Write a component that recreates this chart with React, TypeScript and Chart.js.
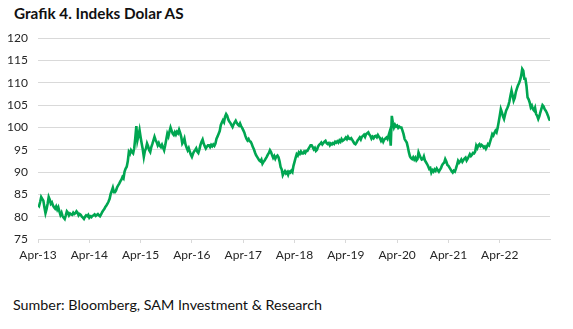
import React, { useEffect, useRef } from "react";
import { Chart, registerables } from "chart.js";

Chart.register(...registerables);

// Weekly US Dollar Index readings (4 per month), Apr-2013 .. Mar-2023
const dxyWeekly: number[] = [
  // Apr-13 .. Mar-14
  82.7, 82.4, 83.3, 84.4, 84.0, 83.6, 82.1, 80.8, 81.7, 82.9, 84.4, 83.8,
  82.9, 83.2, 82.5, 82.1, 81.8, 82.3, 81.6, 82.1, 81.2, 80.4, 80.9, 80.1,
  79.8, 79.5, 80.3, 81.2, 80.9, 80.3, 80.7, 80.5, 80.4, 80.9, 80.6, 80.8,
  81.2, 80.9, 80.3, 80.6, 80.4, 80.0, 79.8, 79.5, 80.0, 80.3, 80.1, 80.4,
  // Apr-14 .. Mar-15
  79.8, 80.1, 79.9, 80.2, 80.3, 80.5, 80.2, 80.4, 80.6, 80.3, 80.1, 80.5,
  81.0, 81.4, 81.7, 82.2, 82.5, 82.9, 83.4, 84.0, 85.1, 85.8, 86.5, 85.5,
  85.5, 85.9, 86.6, 87.0, 87.4, 87.9, 88.3, 88.9, 88.6, 90.1, 90.8, 91.2,
  92.4, 94.5, 94.1, 94.9, 94.5, 94.2, 95.3, 97.6, 100.3, 97.1, 98.2, 99.4,
  // Apr-15 .. Mar-16
  97.8, 96.4, 95.1, 93.4, 94.7, 95.3, 96.4, 95.8, 94.9, 94.5, 95.6, 96.3,
  97.1, 97.9, 97.2, 96.7, 96.0, 96.5, 95.9, 95.6, 96.1, 95.5, 94.9, 96.0,
  97.3, 98.6, 98.0, 99.1, 100.0, 99.3, 98.6, 98.3, 98.9, 98.4, 99.0, 98.7,
  99.5, 98.8, 97.9, 96.4, 96.8, 97.5, 96.2, 95.5, 94.9, 95.4, 94.6, 93.9,
  // Apr-16 .. Mar-17
  93.4, 94.1, 94.6, 94.9, 95.3, 94.6, 94.3, 95.1, 96.1, 96.8, 97.3, 96.4,
  95.8, 95.3, 95.7, 96.0, 96.0, 95.6, 96.1, 95.8, 96.2, 95.9, 96.4, 97.5,
  98.0, 98.6, 99.2, 100.5, 101.1, 101.6, 101.2, 102.4, 103.0, 102.6, 101.8, 101.3,
  101.0, 100.5, 100.1, 100.7, 101.1, 101.5, 101.0, 100.6, 100.4, 100.9, 100.3, 99.9,
  // Apr-17 .. Mar-18
  99.4, 98.9, 98.1, 97.5, 97.1, 97.4, 96.9, 96.8, 96.3, 95.6, 95.1, 94.4,
  93.8, 93.4, 93.0, 92.6, 92.4, 92.8, 91.9, 92.3, 92.6, 93.0, 93.4, 93.9,
  94.3, 94.9, 94.5, 93.8, 93.2, 93.6, 93.0, 93.5, 93.7, 93.3, 92.4, 91.1,
  90.6, 89.3, 89.8, 90.2, 89.7, 90.0, 89.4, 90.1, 89.9, 90.3, 90.0, 91.4,
  // Apr-18 .. Mar-19
  92.3, 93.2, 94.0, 93.7, 94.4, 94.1, 94.6, 94.2, 94.2, 94.6, 94.3, 94.75,
  94.75, 95.2, 95.6, 96.0, 96.0, 95.6, 95.1, 95.4, 94.75, 95.0, 95.7, 96.1,
  96.3, 96.6, 96.2, 96.5, 96.8, 97.0, 96.5, 96.3, 96.5, 96.0, 96.4, 96.2,
  96.5, 96.3, 96.8, 96.6, 96.9, 96.6, 97.1, 96.8, 97.4, 97.0, 97.2, 97.4,
  // Apr-19 .. Mar-20
  97.75, 97.4, 97.9, 97.5, 97.4, 97.6, 97.2, 96.8, 96.4, 96.25, 96.6, 97.1,
  97.4, 97.75, 97.3, 97.9, 98.1, 98.35, 97.9, 98.5, 98.7, 98.9, 98.4, 98.1,
  97.5, 97.9, 97.6, 98.0, 98.1, 97.8, 98.3, 97.9, 97.6, 97.0, 97.4, 96.8,
  97.3, 97.5, 97.75, 97.4, 98.2, 99.0, 95.9, 102.6, 101.0, 100.0, 100.6, 100.2,
  // Apr-20 .. Mar-21
  100.4, 99.9, 100.2, 100.0, 100.0, 99.3, 98.5, 97.4, 97.0, 96.6, 95.6, 94.4,
  93.5, 93.1, 92.9, 93.3, 92.8, 93.2, 92.6, 92.9, 94.4, 93.8, 93.2, 92.8,
  92.9, 93.5, 92.6, 92.2, 91.8, 91.3, 90.7, 90.9, 89.9, 90.4, 90.1, 90.6,
  90.3, 90.8, 90.4, 90.1, 90.5, 90.9, 91.5, 91.9, 92.1, 92.9, 92.4, 91.6,
  // Apr-21 .. Mar-22
  91.4, 91.0, 90.6, 90.2, 89.9, 90.3, 90.1, 90.8, 91.6, 92.5, 92.1, 92.4,
  92.8, 92.3, 92.7, 93.0, 93.25, 92.6, 93.0, 93.5, 94.0, 93.6, 93.9, 94.3,
  94.2, 94.6, 95.9, 95.4, 96.0, 96.25, 95.8, 96.1, 95.9, 95.5, 95.7, 95.2,
  95.7, 96.25, 96.0, 96.8, 97.6, 98.5, 98.2, 98.8, 99.25, 98.9, 99.9, 101.2,
  // Apr-22 .. Mar-23
  102.6, 104.1, 103.4, 102.5, 101.9, 102.9, 103.8, 104.3, 104.9, 105.8, 107.1, 108.25,
  107.2, 106.0, 106.6, 107.9, 108.7, 109.4, 109.9, 110.6, 111.5, 113.1, 112.7, 110.9,
  110.9, 109.3, 106.75, 106.3, 105.6, 104.5, 104.9, 104.1, 103.8, 104.4, 103.0, 102.6,
  101.9, 102.5, 103.4, 104.2, 105.0, 104.7, 104.1, 103.75, 103.3, 102.7, 102.0, 101.5,
];

const pointsPerMonth = 4;
// x-axis ticks: months since Apr-2013
const tickMonths: number[] = [0, 12, 24, 36, 48, 60, 72, 84, 96, 108];
const tickLabels: string[] = [
  "Apr-13", "Apr-14", "Apr-15", "Apr-16", "Apr-17",
  "Apr-18", "Apr-19", "Apr-20", "Apr-21", "Apr-22",
];
const yMin = 75;
const yMax = 120;
const yStep = 5;

const titleText = "Grafik 4. Indeks Dolar AS";
const sourceText = "Sumber: Bloomberg, SAM Investment & Research";

const FONT = "Lato, 'Open Sans', 'Liberation Sans', sans-serif";

export default function App() {
  const canvasRef = useRef<HTMLCanvasElement | null>(null);

  useEffect(() => {
    const canvas = canvasRef.current;
    if (!canvas) return;
    const data = dxyWeekly.map((v, i) => ({ x: i / pointsPerMonth, y: v }));
    const chart = new Chart(canvas, {
      type: "line",
      data: {
        datasets: [
          {
            data,
            borderColor: "#00a651",
            borderWidth: 2.6,
            pointRadius: 0,
            pointHoverRadius: 0,
            tension: 0,
            fill: false,
          },
        ],
      },
      options: {
        animation: false,
        responsive: false,
        maintainAspectRatio: false,
        events: [],
        layout: { padding: { top: 3, right: 10, left: 0, bottom: 0 } },
        plugins: {
          legend: { display: false },
          tooltip: { enabled: false },
          title: { display: false },
        },
        scales: {
          x: {
            type: "linear",
            min: 0,
            max: (dxyWeekly.length - 1) / pointsPerMonth,
            afterBuildTicks: (scale: any) => {
              scale.ticks = tickMonths.map((v) => ({ value: v }));
            },
            afterFit: (scale: any) => {
              scale.height = 30;
            },
            ticks: {
              autoSkip: false,
              maxRotation: 0,
              minRotation: 0,
              padding: 5,
              color: "#262626",
              font: { family: FONT, size: 12 },
              callback: (value: any) => {
                const idx = tickMonths.indexOf(Number(value));
                return idx >= 0 ? tickLabels[idx] : "";
              },
            },
            grid: {
              drawOnChartArea: false,
              drawTicks: true,
              tickLength: 4,
              color: "#d9d9d9",
            },
            border: { display: true, color: "#d9d9d9", width: 1 },
          },
          y: {
            min: yMin,
            max: yMax,
            afterFit: (scale: any) => {
              scale.width = 38;
            },
            ticks: {
              stepSize: yStep,
              padding: 10,
              color: "#262626",
              font: { family: FONT, size: 12 },
            },
            grid: {
              color: "#d9d9d9",
              lineWidth: 1,
              drawTicks: false,
            },
            border: { display: false },
          },
        },
      },
    });
    return () => chart.destroy();
  }, []);

  return (
    <div
      style={{
        position: "fixed",
        left: 0,
        top: 0,
        width: 573,
        height: 329,
        background: "#ffffff",
        overflow: "hidden",
      }}
    >
      <div
        style={{
          position: "absolute",
          left: 14,
          top: 4,
          fontFamily: FONT,
          fontWeight: 700,
          fontSize: 15.3,
          color: "#111111",
          whiteSpace: "nowrap",
        }}
      >
        {titleText}
      </div>
      <canvas
        ref={canvasRef}
        width={560}
        height={248}
        style={{ position: "absolute", left: 0, top: 21, width: 560, height: 248 }}
      />
      <div
        style={{
          position: "absolute",
          left: 13,
          top: 296,
          fontFamily: FONT,
          fontSize: 14.3,
          color: "#111111",
          whiteSpace: "nowrap",
        }}
      >
        {sourceText}
      </div>
    </div>
  );
}
